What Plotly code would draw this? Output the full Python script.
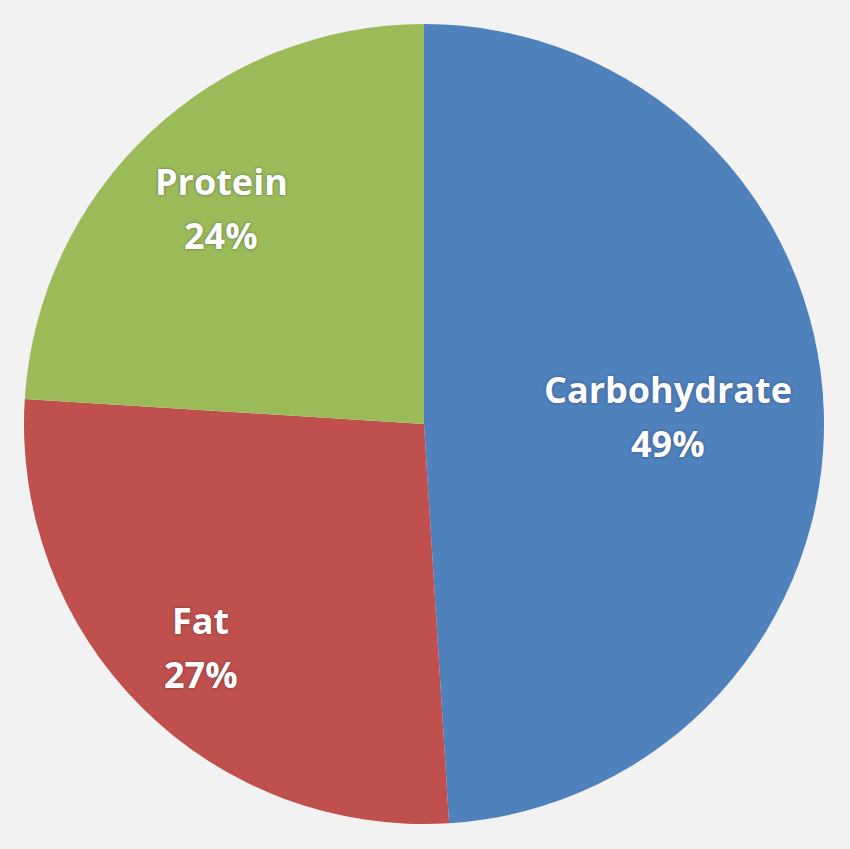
import math
import plotly.graph_objects as go

categories = ["Carbohydrate", "Fat", "Protein"]
values = [49, 27, 24]
colors = ["#4F81BD", "#C0504D", "#9BBB59"]

# style: how far out (fraction of radius) each label sits
label_radius = [0.61, 0.79, 0.74]

W, H = 850, 849
cx, cy, R = 424, 424, 400

dom_x = [(cx - R) / W, (cx + R) / W]
dom_y = [1 - (cy + R) / H, 1 - (cy - R) / H]

fig = go.Figure(go.Pie(
    labels=categories,
    values=values,
    sort=False,
    direction="clockwise",
    rotation=0,
    marker=dict(colors=colors, line=dict(width=0)),
    textinfo="none",
    hoverinfo="skip",
    domain=dict(x=dom_x, y=dom_y),
    showlegend=False,
))

total = sum(values)
cum = 0
pcx = (dom_x[0] + dom_x[1]) / 2
pcy = (dom_y[0] + dom_y[1]) / 2
rx = (dom_x[1] - dom_x[0]) / 2
ry = (dom_y[1] - dom_y[0]) / 2
font = dict(family="Open Sans", size=36, color="white",
            shadow="0px 0px 3px rgba(40,40,60,0.55)")
for cat, v, f in zip(categories, values, label_radius):
    mid = (cum + v / 2) / total * 2 * math.pi
    cum += v
    px = pcx + f * rx * math.sin(mid)
    py = pcy + f * ry * math.cos(mid)
    pct = f"{round(100 * v / total)}%"
    for txt, shift in ((cat, 27), (pct, -27)):
        fig.add_annotation(x=px, y=py, xref="paper", yref="paper",
                           xanchor="center", yanchor="middle",
                           text=f"<b>{txt}</b>", showarrow=False,
                           yshift=shift, font=font)

fig.update_layout(
    width=W, height=H,
    margin=dict(l=0, r=0, t=0, b=0),
    paper_bgcolor="#f2f2f3",
    plot_bgcolor="#f2f2f3",
)

fig.write_html(
    "out.html",
    config={"displayModeBar": False},
    post_script="document.body.style.margin='0';"
                "document.body.style.overflow='hidden';"
                "document.body.style.background='#f2f2f3';",
)
